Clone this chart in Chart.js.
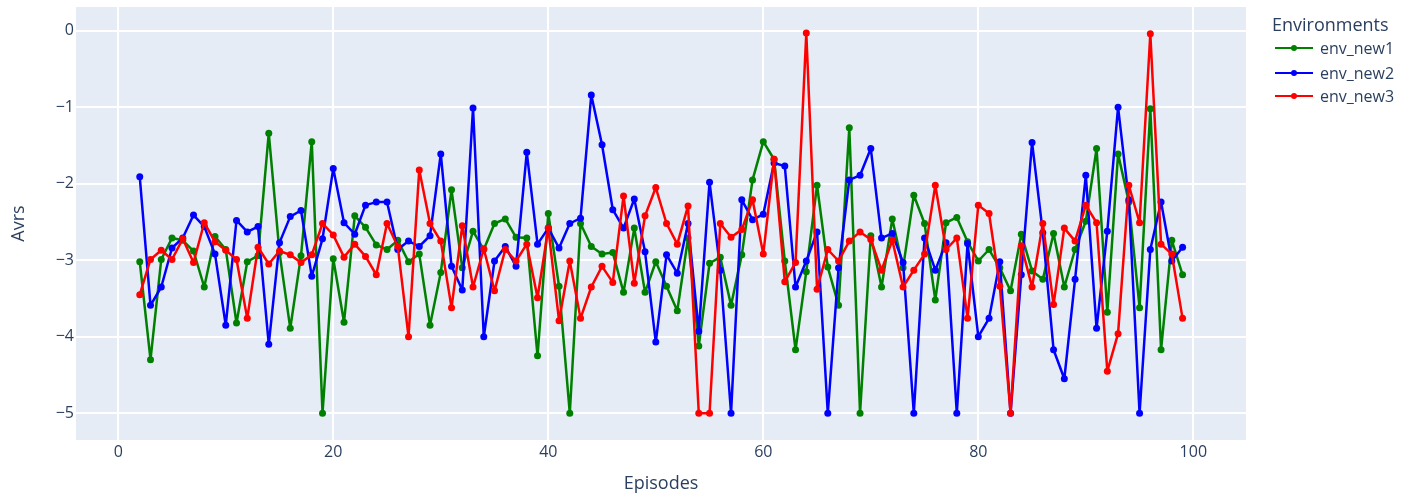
<!DOCTYPE html>
<html>
<head>
<meta charset="utf-8">
<script src="https://cdn.jsdelivr.net/npm/chart.js@4"></script>
<style>
html,body{margin:0;padding:0;background:#fff;}
#wrap{position:relative;width:1416px;height:496px;}
canvas{position:absolute;left:0;top:0;}
#legend{position:absolute;left:1272px;top:0;font-family:"Open Sans",sans-serif;color:#2a3f5f;}
#legend .title{position:absolute;left:0;top:12px;font-size:18px;white-space:nowrap;line-height:24px;}
#legend .item{position:absolute;left:3px;height:20px;white-space:nowrap;}
#legend .ln{position:absolute;left:0;top:9px;width:38px;height:2px;}
#legend .dot{position:absolute;left:16px;top:7px;width:6px;height:6px;border-radius:50%;}
#legend .lbl{position:absolute;left:45px;top:0;font-size:16px;line-height:20px;}
</style>
</head>
<body>
<div id="wrap">
<canvas id="c" width="1416" height="496"></canvas>
<div id="legend"></div>
</div>
<script>
const episodes = [2,3,4,5,6,7,8,9,10,11,12,13,14,15,16,17,18,19,20,21,22,23,24,25,26,27,28,29,30,31,32,33,34,35,36,37,38,39,40,41,42,43,44,45,46,47,48,49,50,51,52,53,54,55,56,57,58,59,60,61,62,63,64,65,66,67,68,69,70,71,72,73,74,75,76,77,78,79,80,81,82,83,84,85,86,87,88,89,90,91,92,93,94,95,96,97,98,99];

const envNew1 = [-3.02,-4.30,-2.99,-2.71,-2.74,-2.88,-3.35,-2.69,-2.86,-3.82,-3.02,-2.94,-1.34,-2.90,-3.89,-2.94,-1.45,-5.00,-2.98,-3.81,-2.42,-2.57,-2.80,-2.86,-2.74,-3.02,-2.92,-3.85,-3.16,-2.08,-3.10,-2.62,-2.86,-2.52,-2.46,-2.70,-2.71,-4.25,-2.39,-3.34,-5.00,-2.52,-2.82,-2.92,-2.90,-3.42,-2.58,-3.42,-3.02,-3.34,-3.66,-2.71,-4.12,-3.04,-2.96,-3.59,-2.93,-1.95,-1.45,-1.68,-3.01,-4.17,-3.15,-2.02,-3.09,-3.59,-1.27,-5.00,-2.68,-3.35,-2.46,-3.10,-2.15,-2.52,-3.52,-2.51,-2.44,-2.76,-3.01,-2.86,-3.10,-3.40,-2.66,-3.14,-3.25,-2.65,-3.35,-2.86,-2.49,-1.54,-3.68,-1.61,-2.24,-3.62,-1.02,-4.17,-2.74,-3.19];

const envNew2 = [-1.91,-3.59,-3.35,-2.84,-2.71,-2.41,-2.56,-2.92,-3.85,-2.48,-2.63,-2.56,-4.10,-2.77,-2.43,-2.35,-3.21,-2.72,-1.80,-2.51,-2.66,-2.28,-2.24,-2.24,-2.86,-2.75,-2.82,-2.68,-1.61,-3.08,-3.39,-1.01,-4.00,-3.01,-2.82,-3.08,-1.59,-2.79,-2.58,-2.84,-2.52,-2.45,-0.84,-1.49,-2.34,-2.58,-2.20,-2.89,-4.07,-2.93,-3.17,-2.52,-3.93,-1.98,-3.13,-5.00,-2.21,-2.47,-2.40,-1.73,-1.77,-3.35,-3.01,-2.63,-5.00,-3.10,-1.95,-1.89,-1.54,-2.71,-2.65,-3.03,-5.00,-2.71,-3.13,-2.77,-5.00,-2.78,-4.00,-3.76,-3.02,-5.00,-3.19,-1.46,-2.64,-4.17,-4.55,-3.25,-1.89,-3.89,-2.62,-1.00,-2.21,-5.00,-2.86,-2.24,-3.01,-2.83];

const envNew3 = [-3.45,-2.99,-2.87,-2.99,-2.72,-3.03,-2.51,-2.76,-2.87,-2.99,-3.76,-2.83,-3.05,-2.88,-2.93,-3.03,-2.93,-2.52,-2.67,-2.96,-2.79,-2.95,-3.19,-2.52,-2.82,-4.00,-1.82,-2.52,-2.75,-3.62,-2.55,-3.35,-2.85,-3.40,-2.86,-3.01,-2.79,-3.49,-2.58,-3.79,-3.01,-3.76,-3.35,-3.08,-3.29,-2.16,-3.30,-2.42,-2.05,-2.52,-2.79,-2.29,-5.00,-5.00,-2.52,-2.70,-2.60,-2.21,-2.92,-1.68,-3.28,-3.03,-0.03,-3.38,-2.86,-3.01,-2.75,-2.63,-2.73,-3.13,-2.74,-3.35,-3.13,-2.92,-2.02,-2.86,-2.71,-3.76,-2.28,-2.39,-3.34,-5.00,-2.81,-3.35,-2.52,-3.58,-2.58,-2.75,-2.28,-2.51,-4.45,-3.96,-2.02,-2.51,-0.04,-2.79,-2.92,-3.76];

const seriesNames = ["env_new1","env_new2","env_new3"];
const seriesColors = ["#008000","#0000ff","#ff0000"];
const xTicks = [0,20,40,60,80,100];
const yTicks = [-5,-4,-3,-2,-1,0];
const legendTitle = "Environments";
const xTitle = "Episodes";
const yTitle = "Avrs";

const seriesValues = [envNew1, envNew2, envNew3];
const FONT = '"Open Sans", sans-serif';
const TXT = '#2a3f5f';

const bgPlugin = {
  id: 'plotbg',
  beforeDraw(chart) {
    const a = chart.chartArea, ctx = chart.ctx;
    ctx.save();
    ctx.fillStyle = '#e5ecf6';
    ctx.fillRect(a.left, a.top, a.right - a.left, a.bottom - a.top);
    ctx.restore();
  }
};

const datasets = seriesValues.map((vals, i) => ({
  label: seriesNames[i],
  data: episodes.map((e, j) => ({x: e, y: vals[j]})),
  borderColor: seriesColors[i],
  backgroundColor: seriesColors[i],
  borderWidth: 2.5,
  borderJoinStyle: 'round',
  borderCapStyle: 'round',
  pointRadius: 3.5,
  pointHoverRadius: 3.5,
  pointBorderWidth: 0,
  tension: 0,
  fill: false,
  order: 2 - i
}));

new Chart(document.getElementById('c'), {
  type: 'line',
  data: { datasets },
  plugins: [bgPlugin],
  options: {
    responsive: false,
    animation: false,
    events: [],
    layout: { padding: { top: 7, right: 170, left: 0, bottom: 0 } },
    plugins: { legend: { display: false }, tooltip: { enabled: false } },
    scales: {
      x: {
        type: 'linear',
        min: -3.93,
        max: 104.9,
        afterBuildTicks: s => { s.ticks = xTicks.map(v => ({value: v})); },
        afterFit: s => { s.height = 56; s.paddingLeft = 0; s.paddingRight = 0; },
        grid: { color: '#ffffff', lineWidth: 2, drawTicks: false },
        border: { display: false },
        ticks: { color: TXT, font: { family: FONT, size: 16 }, padding: 3, maxRotation: 0,
                 callback: v => String(v).replace('-', '\u2212') },
        title: { display: true, text: xTitle, color: TXT, font: { family: FONT, size: 18 }, padding: { top: 0, bottom: 1 } }
      },
      y: {
        type: 'linear',
        min: -5.35,
        max: 0.31,
        afterBuildTicks: s => { s.ticks = yTicks.map(v => ({value: v})); },
        afterFit: s => { s.width = 76; s.paddingTop = 0; s.paddingBottom = 0; },
        grid: { color: '#ffffff', lineWidth: 2, drawTicks: false },
        border: { display: false },
        ticks: { color: TXT, font: { family: FONT, size: 16 }, padding: 2,
                 callback: v => String(v).replace('-', '\u2212') },
        title: { display: true, text: yTitle, color: TXT, font: { family: FONT, size: 18 }, padding: { top: 8, bottom: 0 } }
      }
    }
  }
});

// HTML legend
const lg = document.getElementById('legend');
const t = document.createElement('div');
t.className = 'title'; t.textContent = legendTitle; lg.appendChild(t);
const rowTops = [38, 63, 86];
seriesNames.forEach((n, i) => {
  const it = document.createElement('div');
  it.className = 'item'; it.style.top = rowTops[i] + 'px';
  it.innerHTML = '<div class="ln" style="background:' + seriesColors[i] + '"></div>' +
                 '<div class="dot" style="background:' + seriesColors[i] + '"></div>' +
                 '<div class="lbl">' + n + '</div>';
  lg.appendChild(it);
});
</script>
</body>
</html>
